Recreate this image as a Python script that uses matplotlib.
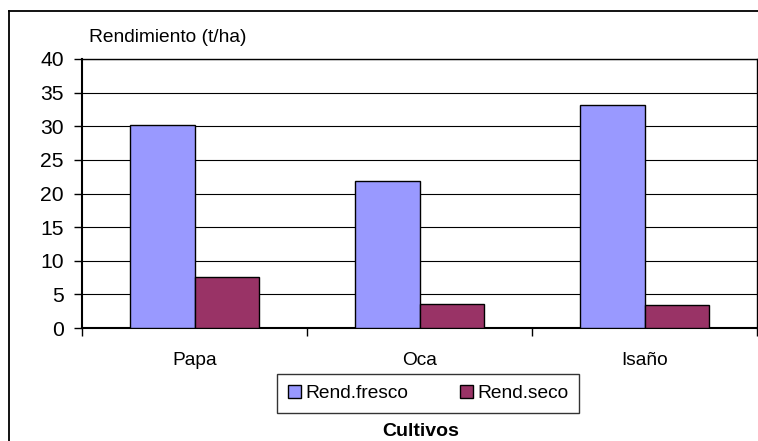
import matplotlib
matplotlib.use("Agg")
import matplotlib.pyplot as plt
from matplotlib.lines import Line2D
import numpy as np

# Yield per crop (t/ha)
cultivos = ["Papa", "Oca", "Isaño"]
rend_fresco = [30.2, 21.8, 33.1]
rend_seco = [7.6, 3.6, 3.4]
series_names = ["Rend.fresco", "Rend.seco"]
y_ticks = [0, 5, 10, 15, 20, 25, 30, 35, 40]

plt.rcParams["font.family"] = ["Liberation Sans", "DejaVu Sans"]

W, H = 758, 441
fig = plt.figure(figsize=(W / 100, H / 100), dpi=100)
ax = fig.add_axes([82 / W, (H - 328) / H, (757 - 82) / W, (328 - 59) / H])

x = np.arange(len(cultivos))
bw = 0.287
ax.bar(x - bw / 2, rend_fresco, bw, color="#9999FF", edgecolor="black",
       linewidth=1.0, label=series_names[0], zorder=3)
ax.bar(x + bw / 2, rend_seco, bw, color="#993366", edgecolor="black",
       linewidth=1.0, label=series_names[1], zorder=3)

ax.set_xlim(-0.5, len(cultivos) - 0.5)
ax.set_ylim(0, 40)
ax.set_yticks(y_ticks)
ax.set_yticklabels([str(v) for v in y_ticks])
ax.yaxis.grid(True, color="black", linewidth=0.8, zorder=0)
ax.set_axisbelow(True)

ax.set_xticks(x)
ax.set_xticklabels(cultivos)
ax.set_xticks(np.arange(len(cultivos) + 1) - 0.5, minor=True)
ax.tick_params(axis="x", which="major", length=0, pad=17, labelsize=13.8)
ax.tick_params(axis="x", which="minor", length=6, width=1.0, direction="out")
ax.tick_params(axis="y", which="major", length=6, width=1.0, direction="out",
               pad=7, labelsize=15.2)

for side in ["top", "right"]:
    ax.spines[side].set_linewidth(1.0)
for side in ["left", "bottom"]:
    ax.spines[side].set_linewidth(1.5)

fig.text(89 / W, 1 - 42 / H, "Rendimiento (t/ha)", fontsize=13.8,
         ha="left", va="baseline")
fig.text(421 / W, 1 - 436.5 / H, "Cultivos", fontsize=14,
         fontweight="bold", ha="center", va="baseline")

leg = fig.legend(loc="center", bbox_to_anchor=(428 / W, 1 - 393.5 / H),
                 ncol=2, fontsize=13.8, frameon=True, fancybox=False,
                 edgecolor="black", handlelength=0.7, handleheight=0.7,
                 handletextpad=0.2, columnspacing=2.7, borderpad=0.55,
                 borderaxespad=0)
leg.get_frame().set_linewidth(1.0)

# outer chart frame (left and top edges)
fig.add_artist(Line2D([9 / W, 9 / W], [0, 1 - 11 / H], transform=fig.transFigure,
                      color="black", linewidth=1.3))
fig.add_artist(Line2D([9 / W, 1], [1 - 11 / H, 1 - 11 / H], transform=fig.transFigure,
                      color="black", linewidth=1.3))

fig.savefig("out.png", dpi=100)
